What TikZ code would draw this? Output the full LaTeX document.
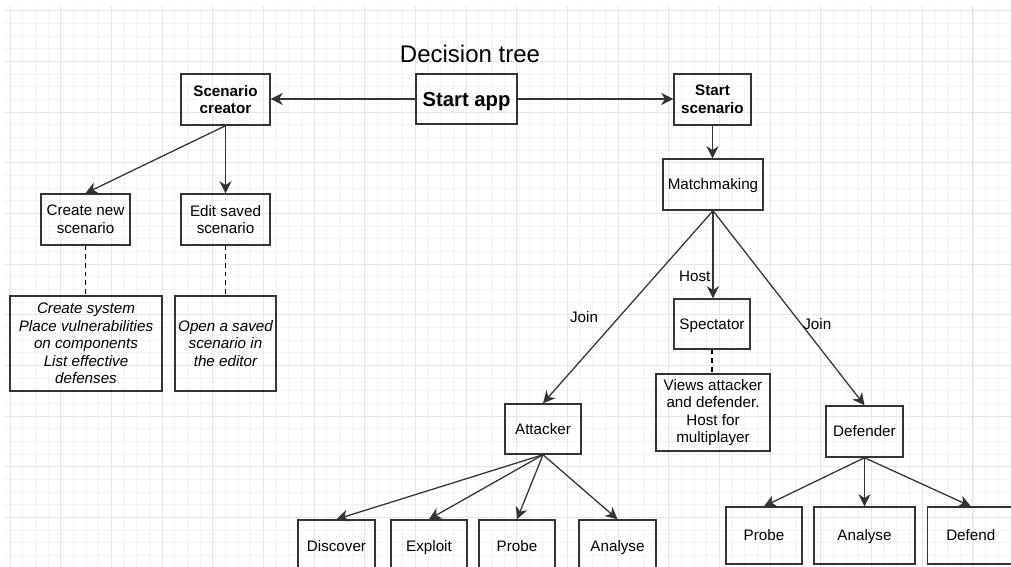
\documentclass[tikz,border=0pt]{standalone}
\usepackage{fontspec}
\setmainfont{Liberation Sans}
\usetikzlibrary{arrows.meta}
\definecolor{gridminor}{HTML}{F3F3F3}
\definecolor{gridmajor}{HTML}{E6E6E6}
\definecolor{stroke}{HTML}{333333}

\begin{document}
\begin{tikzpicture}[x=0.75pt,y=-0.75pt,
  txt/.style={font=\fontsize{11.4pt}{13.2pt}\selectfont, text=black},
  box/.style={txt, draw=stroke, line width=1.1pt, inner sep=0pt, align=center},
  one/.style={text height=10.6pt, text depth=2.4pt},
  boldbox/.style={box, font=\fontsize{11.4pt}{13.2pt}\selectfont\bfseries},
  notebox/.style={box, font=\fontsize{11.4pt}{13.2pt}\selectfont\itshape},
  rect/.style n args={4}{minimum width={(#3-#1)*0.75pt}, minimum height={(#4-#2)*0.75pt},
    at={({(#1+#3)/2},{(#2+#4)/2})}},
  arr/.style={draw=stroke, line width=0.95pt, -{Stealth[length=9pt,width=9pt,inset=2.8pt]}},
  dashline/.style={draw=black, line width=0.95pt, dash pattern=on 3.5pt off 3pt},
  lbl/.style={txt, inner sep=0pt}]

\useasboundingbox (0,0) rectangle (1011,567);
\clip (0,0) rectangle (1011,567);
\fill[white] (0,0) rectangle (1011,567);

% background grid
\foreach \i in {0,...,79}
  \draw[gridminor, line width=0.75pt] ({10.3+12.667*\i},6) -- ({10.3+12.667*\i},567);
\foreach \i in {0,...,43}
  \draw[gridminor, line width=0.75pt] (5,{10.7+12.667*\i}) -- (1011,{10.7+12.667*\i});
\foreach \i in {0,...,19}
  \draw[gridmajor, line width=0.75pt] ({10.3+50.667*\i},6) -- ({10.3+50.667*\i},567);
\foreach \i in {0,...,10}
  \draw[gridmajor, line width=0.75pt] (5,{10.7+50.667*\i}) -- (1011,{10.7+50.667*\i});

% title
\node[font=\fontsize{18pt}{21pt}\selectfont, text=black, inner sep=0pt] (title) at (470,53.5) {Decision tree};

% top row
\node[boldbox, rect={181}{74}{270}{125}] (creator) {Scenario\\creator};
\node[boldbox, rect={416}{74}{517}{124}, font=\fontsize{15.2pt}{18pt}\selectfont\bfseries,
  text height=14.1pt, text depth=3.2pt] (app) {Start app};
\node[boldbox, rect={674}{74}{751}{125}] (start) {Start\\scenario};

% scenario creator branch
\node[box, rect={41}{194}{130}{245}] (newsc) {Create new\\scenario};
\node[box, rect={181}{194}{270}{245}] (editsc) {Edit saved\\scenario};
\node[notebox, rect={10}{296}{162}{391}] (desc1) {Create system\\Place vulnerabilities\\on components\\List effective\\defenses};
\node[notebox, rect={175}{296}{276}{391}] (desc2) {Open a saved\\scenario in\\the editor};

% scenario branch
\node[box, one, rect={663}{159}{763}{210}] (match) {Matchmaking};
\node[box, one, rect={674}{299}{750}{349}] (spect) {Spectator};
\node[box, rect={656}{374}{770}{451}] (views) {Views attacker\\and defender.\\Host for\\multiplayer};
\node[box, one, rect={505}{404}{581}{454}] (attacker) {Attacker};
\node[box, one, rect={826}{406}{903}{457}] (defender) {Defender};

% attacker actions (boxes run past the lower edge)
\node[box, one, rect={298}{520}{375}{573}] (discover) {Discover};
\node[box, one, rect={391}{520}{467}{573}] (exploit) {Exploit};
\node[box, one, rect={479}{520}{555}{573}] (aprobe) {Probe};
\node[box, one, rect={579}{520}{656}{573}] (aanalyse) {Analyse};

% defender actions
\node[box, one, rect={726}{507}{802}{564}] (dprobe) {Probe};
\node[box, one, rect={814}{507}{915}{564}] (danalyse) {Analyse};
\node[box, one, rect={927.5}{507}{1014}{564}] (defend) {Defend};

% connectors
\draw[arr] (app.west) -- (app.west -| creator.east);
\draw[arr] (app.east) -- (app.east -| start.west);
\draw[arr] (creator.south) -- (newsc.north);
\draw[arr] (creator.south) -- (editsc.north);
\draw[dashline] (newsc.south) -- (newsc.south |- desc1.north);
\draw[dashline] (editsc.south) -- (editsc.south |- desc2.north);
\draw[arr] (start.south) -- (start.south |- match.north);
\draw[arr] (match.south) -- (attacker.north)
  node[lbl, pos=0.55, xshift=-26.6pt] {Join};
\draw[arr] (match.south) -- (match.south |- spect.north)
  node[lbl, pos=0.75, anchor=east, xshift=-1.5pt] {Host};
\draw[arr] (match.south) -- (defender.north)
  node[lbl, pos=0.582, xshift=12.1pt] {Join};
\draw[dashline] (spect.south) -- (spect.south |- views.north);
\foreach \t in {discover,exploit,aprobe,aanalyse}
  \draw[arr] (attacker.south) -- (\t.north);
\foreach \t in {dprobe,danalyse,defend}
  \draw[arr] (defender.south) -- (\t.north);
\end{tikzpicture}
\end{document}
